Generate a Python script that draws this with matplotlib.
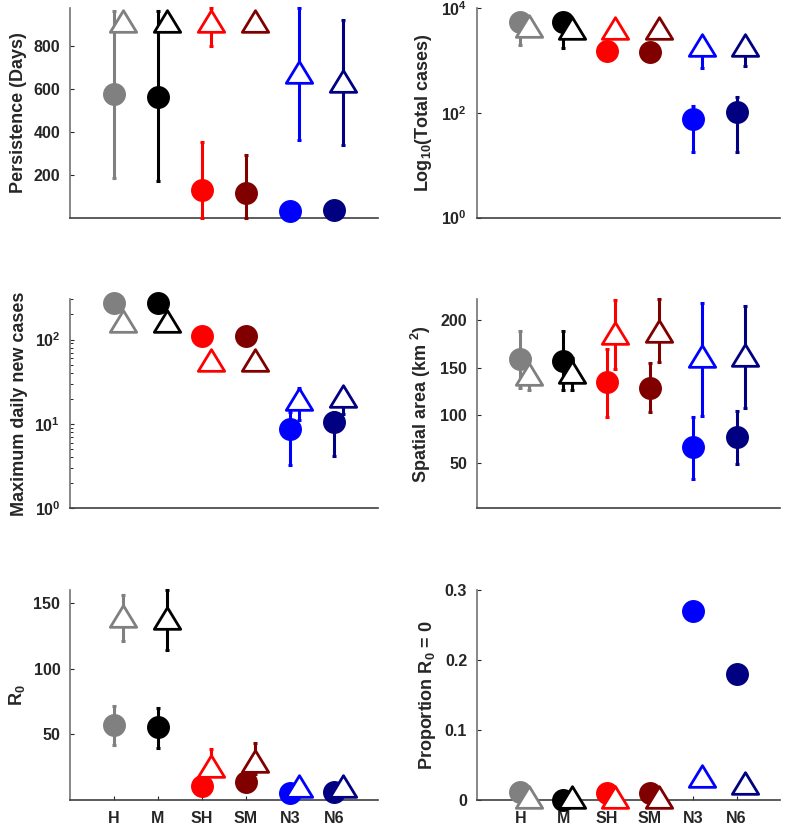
import numpy as np
import matplotlib
matplotlib.use('Agg')
import matplotlib.pyplot as plt
from matplotlib.path import Path

plt.rcParams['font.family'] = ['Liberation Sans', 'DejaVu Sans']
plt.rcParams['font.weight'] = 'bold'
plt.rcParams['mathtext.default'] = 'regular'

groups = ['H', 'M', 'SH', 'SM', 'N3', 'N6']
colors = [(0.5, 0.5, 0.5), (0, 0, 0), (1, 0, 0), (0.5, 0, 0), (0, 0, 1), (0, 0, 0.5)]

# persistence (days)
pers_c = [577, 566, 127, 115, 31, 36]
pers_c_lo = [185, 169, 0, 0, 31, 36]
pers_c_hi = [964, 964, 351, 294, 31, 36]
pers_t = [917, 917, 917, 917, 683, 640]
pers_t_lo = [917, 917, 800, 917, 361, 337]
pers_t_hi = [917, 917, 980, 917, 980, 922]

# total cases
tot_c = [5300, 5300, 1480, 1450, 76, 105]
tot_c_lo = [2000, 1700, 1480, 1450, 18, 18]
tot_c_hi = [7500, 7500, 1480, 1450, 135, 198]
tot_t = [4500, 4200, 4200, 4200, 1960, 1980]
tot_t_lo = [4500, 4200, 4200, 4200, 710, 790]
tot_t_hi = [4500, 4200, 4200, 4200, 1960, 1980]

# max daily new cases
mdc_c = [273, 268, 109, 110, 8.7, 10.5]
mdc_c_lo = [273, 268, 109, 110, 3.3, 4.2]
mdc_c_hi = [273, 268, 109, 110, 14, 14]
mdc_t = [168, 168, 57, 57, 19.6, 21.2]
mdc_t_lo = [168, 168, 50, 50, 11, 13]
mdc_t_hi = [168, 168, 57, 57, 27, 21.2]

# spatial area
area_c = [159, 157, 134.5, 129, 66, 77]
area_c_lo = [129, 126, 98.5, 103, 33, 49]
area_c_hi = [189, 189, 169.5, 155, 98, 104]
area_t = [143, 145, 187, 189, 162.5, 163.6]
area_t_lo = [126, 126, 148.6, 155.5, 99.6, 108]
area_t_hi = [160, 160, 221, 222, 218, 215]

# R0
r0_c = [57, 55.8, 10.6, 14, 5.5, 6]
r0_c_lo = [42, 40, 10.6, 14, 5.5, 6]
r0_c_hi = [71.3, 70, 10.6, 14, 5.5, 6]
r0_t = [140.4, 139, 26, 30, 11, 11]
r0_t_lo = [121, 114, 18.6, 20, 11, 11]
r0_t_hi = [156, 160, 38.7, 43.7, 11, 11]

# proportion R0 = 0
prop_c = [0.012, 0.0, 0.01, 0.01, 0.27, 0.18]
prop_t = [0.004, 0.004, 0.004, 0.004, 0.034, 0.024]

# wide, flat triangle like matlab's
tri = Path([(-1, -0.82), (1, -0.82), (0, 0.82), (-1, -0.82)],
           [Path.MOVETO, Path.LINETO, Path.LINETO, Path.CLOSEPOLY])

fig = plt.figure(figsize=(7.87, 8.27), dpi=100)
lx, lw = 0.089, 0.391
rx, rw = 0.606, 0.385
rows = [(0.737, 0.2533), (0.3854, 0.2527), (0.0326, 0.254)]
tc = (0.15, 0.15, 0.15)

def panel(pos, c, clo, chi, t, tlo, thi, ylabel, ylim, log=False, xlab=False):
    ax = fig.add_axes(pos)
    x = np.arange(1, len(groups) + 1)
    for i in range(len(groups)):
        col = colors[i]
        ax.errorbar(x[i], c[i], yerr=[[c[i] - clo[i]], [chi[i] - c[i]]], fmt='o',
                    color=col, ms=15.5, mec=col, mfc=col, elinewidth=2.2, capsize=1.5,
                    capthick=2.2, clip_on=False, zorder=3)
        ax.errorbar(x[i] + 0.2, t[i], yerr=[[t[i] - tlo[i]], [thi[i] - t[i]]], fmt='none',
                    ecolor=col, elinewidth=2.2, capsize=1.5, capthick=2.2,
                    clip_on=False, zorder=4)
        ax.plot(x[i] + 0.2, t[i], marker=tri, ms=19, mec=col, mfc='white', mew=2.0,
                ls='none', clip_on=False, zorder=5)
    if log:
        ax.set_yscale('log')
    ax.set_ylim(ylim)
    ax.set_xlim(0, 7)
    for s in ['top', 'right']:
        ax.spines[s].set_visible(False)
    ax.spines['left'].set_color((0.45, 0.45, 0.45))
    ax.spines['bottom'].set_color((0.25, 0.25, 0.25))
    for s in ['left', 'bottom']:
        ax.spines[s].set_linewidth(1.2)
    ax.tick_params(axis='y', direction='in', colors=tc, labelsize=11.5,
                   length=3, width=0.8, pad=7)
    ax.tick_params(axis='y', which='minor', direction='in', length=2, width=0.6)
    if xlab:
        ax.set_xticks(x)
        ax.set_xticklabels(groups)
        ax.tick_params(axis='x', direction='in', colors=tc, labelsize=11.5,
                       length=3, pad=8)
    else:
        ax.set_xticks([])
    ax.set_ylabel(ylabel, fontsize=13, color=tc, fontweight='bold', labelpad=5)
    return ax

ax1 = panel([lx, rows[0][0], lw, rows[0][1]], pers_c, pers_c_lo, pers_c_hi,
            pers_t, pers_t_lo, pers_t_hi, 'Persistence (Days)', (0, 980))
ax1.set_yticks([200, 400, 600, 800])

ax2 = panel([rx, rows[0][0], rw, rows[0][1]], tot_c, tot_c_lo, tot_c_hi,
            tot_t, tot_t_lo, tot_t_hi, 'Log$_{10}$(Total cases)', (1, 1e4), log=True)
ax2.set_yticks([1, 1e2, 1e4])
ax2.yaxis.set_minor_locator(matplotlib.ticker.NullLocator())

ax3 = panel([lx, rows[1][0], lw, rows[1][1]], mdc_c, mdc_c_lo, mdc_c_hi,
            mdc_t, mdc_t_lo, mdc_t_hi, 'Maximum daily new cases', (1, 300), log=True)
ax3.set_yticks([1, 10, 100])

ax4 = panel([rx, rows[1][0], rw, rows[1][1]], area_c, area_c_lo, area_c_hi,
            area_t, area_t_lo, area_t_hi, 'Spatial area (km $^2$)', (2, 222))
ax4.set_yticks([50, 100, 150, 200])

ax5 = panel([lx, rows[2][0], lw, rows[2][1]], r0_c, r0_c_lo, r0_c_hi,
            r0_t, r0_t_lo, r0_t_hi, 'R$_0$', (0, 160), xlab=True)
ax5.set_yticks([50, 100, 150])

ax6 = panel([rx, rows[2][0], rw, rows[2][1]], prop_c, prop_c, prop_c,
            prop_t, prop_t, prop_t, 'Proportion R$_0$ = 0', (0, 0.3), xlab=True)
ax6.set_yticks([0, 0.1, 0.2, 0.3])
ax6.set_yticklabels(['0', '0.1', '0.2', '0.3'])

fig.savefig('out.png', dpi=100)
